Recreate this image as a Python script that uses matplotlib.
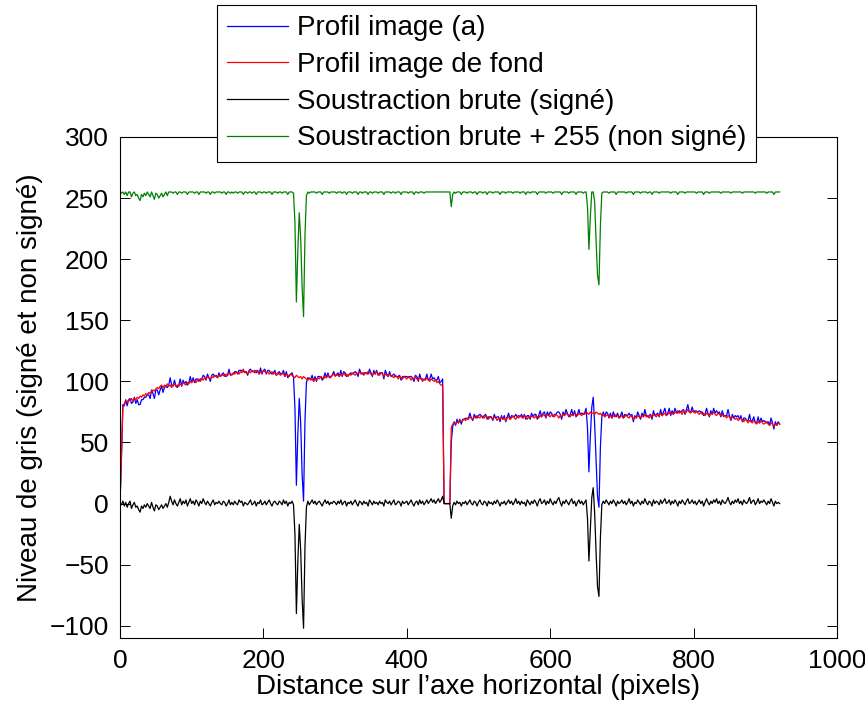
"""
Profils d'intensite : image, fond, soustraction brute signee / non signee.
Output: out.png
"""
import matplotlib
matplotlib.use("Agg")
import matplotlib.pyplot as plt
import numpy as np

plt.rcParams["font.family"] = ["Liberation Sans", "DejaVu Sans"]

# ── Data (niveaux de gris, un point tous les 2 pixels) ───────────────────────
pixels = np.arange(0, 921, 2)

profil_fond = [
    0, 38, 79, 82, 84, 83, 85, 84, 86, 84,
    86, 85, 87, 86, 88, 87, 89, 88, 90, 89,
    91, 90, 92, 93, 92, 94, 95, 94, 96, 97,
    95, 97, 96, 98, 96, 97, 95, 97, 98, 96,
    97, 96, 98, 97, 99, 98, 97, 99, 98, 100,
    99, 101, 100, 99, 101, 102, 100, 102, 101, 103,
    102, 104, 103, 102, 104, 103, 105, 104, 103, 105,
    104, 106, 105, 104, 106, 105, 107, 106, 105, 107,
    106, 108, 107, 106, 108, 107, 110, 107, 108, 106,
    108, 107, 109, 108, 107, 109, 108, 106, 108, 107,
    109, 108, 107, 108, 106, 107, 108, 106, 107, 105,
    107, 106, 105, 107, 106, 104, 106, 105, 104, 106,
    105, 104, 103, 105, 104, 103, 104, 102, 104, 103,
    102, 101, 103, 101, 102, 100, 102, 101, 103, 102,
    104, 103, 102, 104, 103, 105, 104, 103, 105, 106,
    104, 106, 105, 104, 106, 105, 107, 105, 106, 104,
    106, 105, 107, 106, 105, 107, 106, 108, 106, 107,
    105, 107, 106, 108, 107, 106, 105, 107, 106, 108,
    106, 105, 107, 106, 104, 106, 105, 104, 106, 105,
    104, 103, 105, 104, 102, 104, 103, 102, 104, 103,
    102, 104, 103, 101, 103, 102, 104, 102, 101, 103,
    102, 100, 102, 101, 103, 101, 100, 102, 101, 100,
    101, 99, 100, 98, 97, 96, 0, 0, 0, 0,
    0, 62, 65, 66, 65, 67, 66, 68, 67, 68,
    69, 68, 70, 69, 71, 70, 69, 71, 70, 72,
    71, 70, 72, 71, 70, 72, 71, 69, 71, 70,
    69, 71, 70, 68, 70, 69, 71, 69, 70, 68,
    70, 71, 69, 70, 72, 70, 69, 71, 70, 72,
    71, 70, 72, 71, 69, 71, 70, 72, 71, 70,
    72, 71, 70, 72, 71, 73, 72, 71, 73, 72,
    71, 73, 72, 71, 73, 72, 70, 72, 71, 73,
    72, 74, 73, 72, 71, 73, 72, 74, 73, 72,
    74, 73, 72, 74, 73, 75, 74, 73, 75, 74,
    74, 73, 75, 74, 73, 74, 72, 73, 71, 72,
    73, 71, 72, 70, 72, 71, 73, 72, 70, 71,
    72, 70, 71, 73, 71, 70, 72, 71, 69, 71,
    70, 72, 71, 70, 72, 71, 73, 71, 72, 70,
    72, 71, 73, 72, 71, 73, 72, 74, 72, 73,
    74, 72, 73, 75, 73, 74, 73, 75, 74, 76,
    74, 75, 73, 76, 74, 75, 77, 75, 74, 76,
    75, 74, 76, 74, 73, 75, 73, 74, 72, 74,
    73, 72, 74, 73, 75, 73, 72, 74, 73, 72,
    73, 71, 72, 70, 72, 71, 69, 71, 70, 69,
    70, 68, 69, 70, 68, 67, 69, 68, 66, 68,
    67, 66, 68, 67, 65, 67, 66, 68, 66, 65,
    66, 67, 65, 64, 66, 65, 63, 65, 64, 66,
    65,
]

soustraction = [
    0, -1, 2, -2, 1, -3, 0, 2, -4, -1,
    1, -3, -2, -5, -7, -2, -4, -1, -3, 0,
    -2, -4, 1, -3, -6, -1, -2, -5, -3, -1,
    -4, -2, 0, -3, 1, 6, 2, -1, 3, 0,
    -2, 1, 4, -1, 2, 0, 3, -2, 1, 4,
    0, 2, -1, 3, 1, -2, 2, 0, 4, 1,
    -1, 2, 0, -2, 1, 3, -1, 1, 0, 2,
    0, -1, 2, 1, -2, 0, 3, -1, 1, -1,
    2, 0, -1, 3, 1, 2, -2, 1, 0, -1,
    1, 3, -1, 0, 2, -2, 1, 0, 3, -1,
    0, 2, -1, 1, 3, 0, -2, 1, 2, 0,
    -1, 2, 1, -1, 3, 0, 2, -2, 1, 0,
    2, -1, -25, -90, -48, -17, -38, -78, -102, -35,
    -3, 2, -1, 1, 3, 0, 2, -1, 1, 2,
    0, -2, 1, 3, 0, 2, -1, 1, 0, 2,
    1, -1, 2, 0, 3, -1, 1, 2, -2, 1,
    0, 2, -1, 1, 3, 0, -2, 2, 1, -1,
    2, 0, 1, -2, 3, 1, -1, 2, 0, 1,
    -1, 2, 0, 1, -2, 3, 1, 0, 2, -1,
    1, 3, -1, 0, 2, 1, -2, 2, 0, 1,
    2, -1, 1, 3, 0, -2, 1, 2, -1, 3,
    0, 2, -1, 1, 3, 0, 2, 4, 1, 3,
    0, 2, 4, 1, 3, 6, 0, 0, 0, 0,
    0, -12, -2, 1, -1, 2, 0, 1, -2, 1,
    0, 2, -1, 1, 3, 0, -1, 2, 1, -2,
    1, 3, 0, -1, 2, 1, -2, 2, 0, 1,
    -1, 2, 0, 3, 1, -2, 1, 0, 2, -1,
    1, 3, 0, 2, -1, 1, 4, 0, 2, -1,
    2, 0, 1, -2, 3, 1, -1, 2, 0, 3,
    1, -2, 2, 4, 0, 1, 3, -1, 2, 0,
    4, 1, -1, 2, 0, 3, 5, 1, -2, 2,
    0, 3, 1, -1, 2, 4, 0, 2, -2, 1,
    3, 0, 2, -1, 1, 3, -12, -47, -20, 5,
    13, -8, -40, -68, -76, -28, -1, 2, 0, 3,
    1, -1, 2, 0, 3, 1, -2, 2, 0, 1,
    3, 0, 2, -1, 1, 4, 0, 2, -2, 1,
    0, 3, 1, -1, 2, 0, 4, 1, -1, 2,
    1, -2, 3, 0, 2, 1, -1, 3, 0, 2,
    4, 0, 1, 3, -1, 2, 0, 3, 1, -2,
    2, 0, 3, 1, -1, 2, 4, 0, 1, 3,
    0, 2, -1, 1, 3, 0, 2, -2, 1, 4,
    1, -1, 2, 0, 3, 1, 4, 0, 2, -1,
    3, 1, 0, 2, 5, 1, -1, 2, 0, 3,
    1, 4, 0, 2, -1, 3, 1, 0, 2, 5,
    0, 2, 3, -1, 1, 4, 0, 2, 1, 3,
    1, -1, 2, 0, 4, 1, -2, 2, 0, 1,
    0,
]

fond = np.array(profil_fond)
sous = np.array(soustraction)
profil_image = fond + sous                       # image (a) = fond + difference
non_signe = np.minimum(sous + 255, 255)          # saturation uint8

labels = ["Profil image (a)", "Profil image de fond",
          "Soustraction brute (signé)", "Soustraction brute + 255 (non signé)"]

# ── Figure ────────────────────────────────────────────────────────────────────
W, H = 865, 709
fig = plt.figure(figsize=(W / 100, H / 100), dpi=100)
ax = fig.add_axes([120 / W, 1 - 638 / H, (837 - 120) / W, (638 - 137) / H])

lw = 0.9
ax.plot(pixels, profil_image, color="#0000ff", lw=lw, label=labels[0])
ax.plot(pixels, fond, color="#ff0000", lw=lw, label=labels[1])
ax.plot(pixels, sous, color="black", lw=lw, label=labels[2])
ax.plot(pixels, non_signe, color="#008000", lw=lw, label=labels[3])

ax.set_xlim(0, 1000)
ax.set_ylim(-110, 300)
ax.set_xticks(range(0, 1001, 200))
ax.set_yticks(range(-100, 301, 50))
ax.set_yticklabels([str(v).replace("-", "\u2212") for v in range(-100, 301, 50)])

FS = 20
ax.tick_params(direction="in", length=7, width=0.7, labelsize=19,
               top=True, right=True, pad=8)
for s in ax.spines.values():
    s.set_linewidth(0.8)

ax.set_xlabel("Distance sur l\u2019axe horizontal (pixels)", fontsize=FS, labelpad=1)
ax.set_ylabel("Niveau de gris (signé et non signé)", fontsize=FS, labelpad=5)

leg = ax.legend(loc="upper left", bbox_to_anchor=(217 / W, 1 - 5 / H),
                bbox_transform=fig.transFigure, fontsize=FS,
                frameon=True, fancybox=False, framealpha=1,
                edgecolor="black", handlelength=2.2, handletextpad=0.3,
                labelspacing=0.385, borderpad=0.37, borderaxespad=0)
leg.get_frame().set_linewidth(0.8)

fig.savefig("out.png", dpi=100, facecolor="white")
